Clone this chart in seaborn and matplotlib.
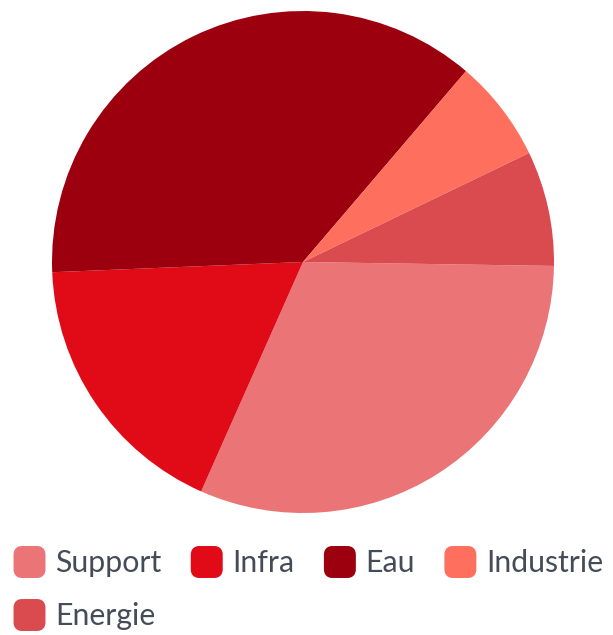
import matplotlib
matplotlib.use("Agg")
import matplotlib.pyplot as plt
import seaborn as sns
from matplotlib.patches import FancyBboxPatch

sns.set_theme(style="white")
plt.rcParams["font.family"] = ["Lato", "DejaVu Sans"]

# data (percent shares)
labels = ["Support", "Infra", "Eau", "Industrie", "Energie"]
values = [31.4, 17.7, 36.9, 6.6, 7.4]
colors = ["#EB7576", "#E10A17", "#9C000F", "#FE6F5E", "#D94B4F"]

W, H = 613, 635
fig = plt.figure(figsize=(W / 100, H / 100), dpi=100)

# pie: centre (303, 262) px, radius 251 px
cx, cy, r = 303, 262, 251
ax = fig.add_axes([(cx - r) / W, (H - cy - r) / H, 2 * r / W, 2 * r / H])
ax.pie(values, colors=colors, startangle=-0.9, counterclock=False,
       radius=1, wedgeprops=dict(linewidth=0))
ax.set_xlim(-1, 1)
ax.set_ylim(-1, 1)
ax.set_aspect("equal")
ax.axis("off")

# legend, laid out like a flowing html legend
fig.canvas.draw()
renderer = fig.canvas.get_renderer()
x, row_y = 14, [562, 615]
row = 0
box, gap_txt, gap_item = 31, 10, 30
for lab, col in zip(labels, colors):
    t = fig.text(0, 0, lab, fontsize=21.8, color="#444c58",
                 va="center", ha="left")
    tw = t.get_window_extent(renderer).width
    if x + box + gap_txt + tw > W - 5:
        row += 1
        x = 14
    y = row_y[row]
    fig.add_artist(FancyBboxPatch(((x + 3) / W, (H - y - box / 2 + 3) / H),
                                  (box - 6) / W, (box - 6) / H,
                                  boxstyle="round,pad=0,rounding_size=0.008",
                                  transform=fig.transFigure,
                                  facecolor=col, edgecolor=col, linewidth=5,
                                  joinstyle="round"))
    t.set_position(((x + box + gap_txt) / W, (H - y - 1) / H))
    x += box + gap_txt + tw + gap_item

fig.savefig("out.png", dpi=100)
